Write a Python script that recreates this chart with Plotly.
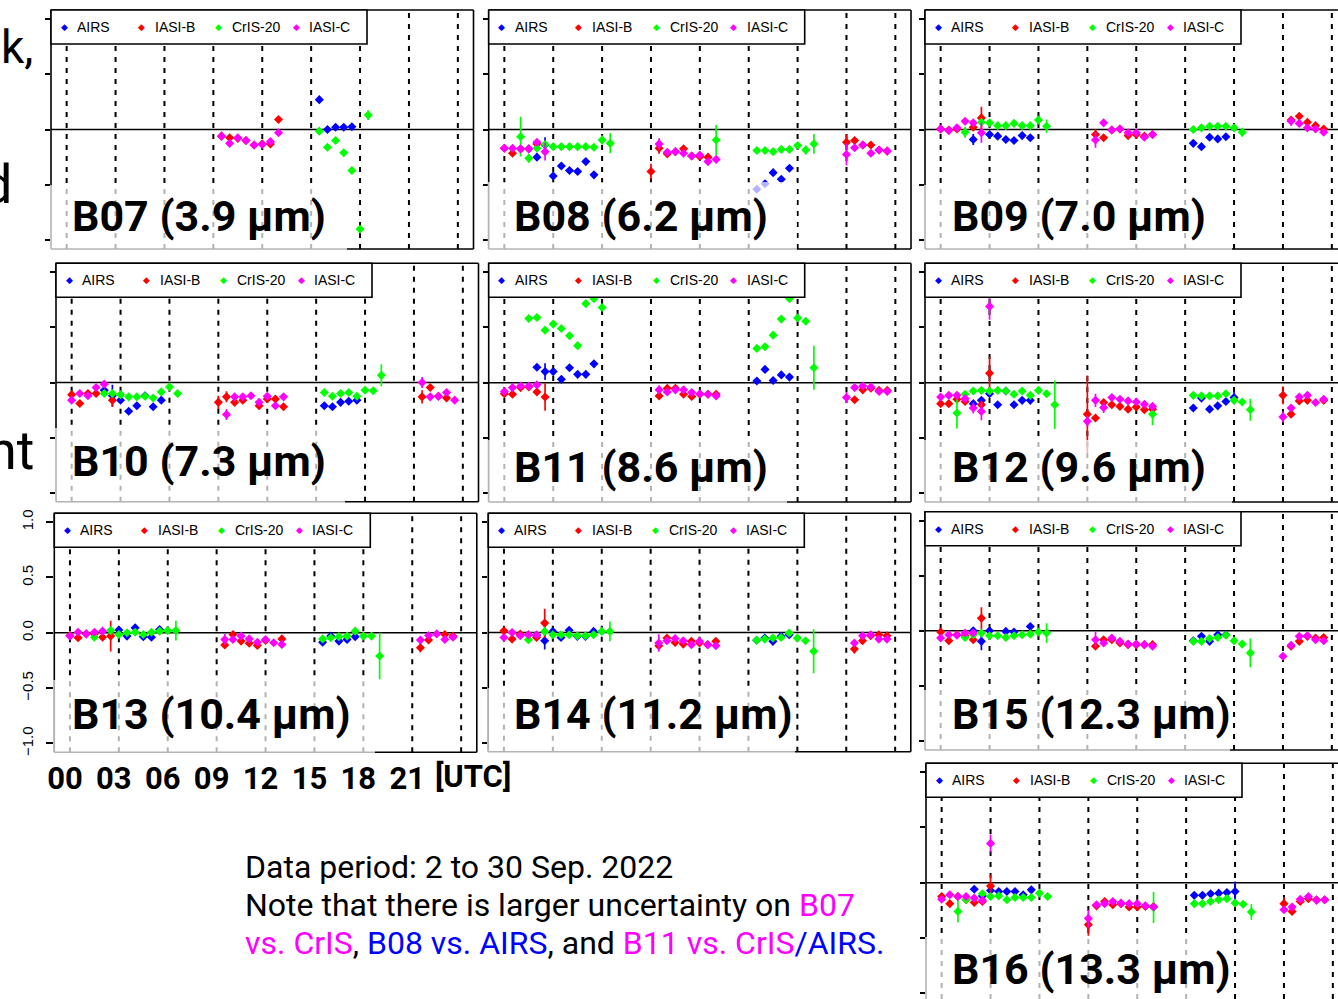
import plotly.graph_objects as go

W, H = 1338, 999

# ---------------- data ----------------
SENSORS = ["AIRS", "IASI-B", "CrIS-20", "IASI-C"]
COLORS = ["#0000FF", "#FF0000", "#00FF00", "#FF00FF"]
HOUR_GRID = [0, 3, 6, 9, 12, 15, 18, 21, 24]
HOUR_LABELS = ["00", "03", "06", "09", "12", "15", "18", "21"]
Y_TICKS = [-1.0, -0.5, 0.0, 0.5, 1.0]
BANDS = ["B07", "B08", "B09", "B10", "B11", "B12", "B13", "B14", "B15", "B16"]
BAND_LABELS = ["B07 (3.9 µm)", "B08 (6.2 µm)", "B09 (7.0 µm)", "B10 (7.3 µm)",
               "B11 (8.6 µm)", "B12 (9.6 µm)", "B13 (10.4 µm)", "B14 (11.2 µm)",
               "B15 (12.3 µm)", "B16 (13.3 µm)"]

# (UTC hour, bias [K], error-bar half length)
B07_AIRS = [(15.5, 0.27, 0.02), (16.0, 0.0, 0.02), (16.5, 0.02, 0.02), (17.0, 0.02, 0.02), (17.5, 0.025, 0.02)]
B07_IASIB = [(9.5, -0.06, 0.02), (10.0, -0.075, 0.02), (10.5, -0.08, 0.02), (11.0, -0.10, 0.02), (11.5, -0.14, 0.02),
             (12.0, -0.13, 0.02), (12.5, -0.13, 0.02), (13.0, 0.09, 0.02)]
B07_CRIS = [(15.5, -0.015, 0.02), (16.0, -0.16, 0.02), (16.5, -0.10, 0.02), (17.0, -0.21, 0.02), (17.5, -0.37, 0.02),
            (18.0, -0.90, 0.02), (18.5, 0.13, 0.045)]
B07_IASIC = [(9.5, -0.06, 0.04), (10.0, -0.125, 0.02), (10.5, -0.075, 0.02), (11.0, -0.10, 0.02), (11.5, -0.14, 0.02),
             (12.0, -0.135, 0.02), (12.5, -0.11, 0.02), (13.0, -0.03, 0.02)]

B08_AIRS = [(2.0, -0.25, 0.03), (2.5, -0.14, 0.07), (3.0, -0.42, 0.02), (3.5, -0.33, 0.02), (4.0, -0.37, 0.02),
            (4.5, -0.38, 0.02), (5.0, -0.29, 0.02), (5.5, -0.41, 0.02), (15.5, -0.54, 0.02), (16.0, -0.49, 0.02),
            (16.5, -0.39, 0.02), (17.0, -0.45, 0.02), (17.5, -0.35, 0.02)]
B08_IASIB = [(0.0, -0.17, 0.02), (0.5, -0.215, 0.02), (1.0, -0.175, 0.02), (1.5, -0.175, 0.02), (2.0, -0.13, 0.02),
             (9.0, -0.38, 0.07), (9.5, -0.17, 0.05), (10.0, -0.22, 0.02), (10.5, -0.20, 0.02), (11.0, -0.175, 0.02),
             (11.5, -0.24, 0.02), (12.0, -0.245, 0.02), (12.5, -0.25, 0.02), (21.0, -0.115, 0.07), (21.5, -0.10, 0.02),
             (22.0, -0.14, 0.02), (22.5, -0.14, 0.02), (23.0, -0.185, 0.02), (23.5, -0.195, 0.02)]
B08_CRIS = [(1.0, -0.065, 0.18), (1.5, -0.26, 0.04), (2.0, -0.17, 0.02), (2.5, -0.135, 0.02), (3.0, -0.155, 0.02),
            (3.5, -0.155, 0.02), (4.0, -0.155, 0.02), (4.5, -0.155, 0.02), (5.0, -0.155, 0.02), (5.5, -0.16, 0.02),
            (6.0, -0.095, 0.04), (6.5, -0.125, 0.09), (13.0, -0.095, 0.135), (15.5, -0.19, 0.02), (16.0, -0.19, 0.02),
            (16.5, -0.20, 0.02), (17.0, -0.18, 0.02), (17.5, -0.18, 0.02), (18.0, -0.145, 0.02), (18.5, -0.185, 0.04),
            (19.0, -0.13, 0.09)]
B08_IASIC = [(0.0, -0.17, 0.02), (0.5, -0.17, 0.02), (1.0, -0.175, 0.02), (1.5, -0.175, 0.02), (2.0, -0.115, 0.03),
             (2.5, -0.20, 0.08), (9.5, -0.13, 0.05), (10.0, -0.205, 0.02), (10.5, -0.20, 0.02), (11.0, -0.215, 0.02),
             (11.5, -0.24, 0.02), (12.0, -0.23, 0.02), (12.5, -0.29, 0.02), (13.0, -0.27, 0.02), (21.0, -0.225, 0.10),
             (21.5, -0.165, 0.02), (22.0, -0.14, 0.02), (22.5, -0.215, 0.02), (23.0, -0.185, 0.02), (23.5, -0.195, 0.02)]

B09_AIRS = [(2.0, -0.09, 0.05), (3.0, -0.045, 0.02), (3.5, -0.06, 0.02), (4.0, -0.09, 0.02), (4.5, -0.10, 0.02),
            (5.0, -0.055, 0.02), (5.5, -0.075, 0.02), (15.5, -0.125, 0.02), (16.0, -0.155, 0.02), (16.5, -0.07, 0.02),
            (17.0, -0.085, 0.02), (17.5, -0.065, 0.02)]
B09_IASIB = [(0.0, 0.005, 0.02), (0.5, -0.005, 0.02), (1.0, 0.005, 0.02), (2.0, 0.02, 0.02), (2.5, 0.105, 0.10),
             (9.5, -0.045, 0.05), (10.0, -0.075, 0.02), (10.5, -0.005, 0.02), (11.0, 0.005, 0.02), (11.5, -0.055, 0.02),
             (12.0, -0.045, 0.02), (12.5, -0.06, 0.02), (13.0, -0.045, 0.02), (21.5, 0.085, 0.02), (22.0, 0.12, 0.02),
             (22.5, 0.065, 0.02), (23.0, 0.035, 0.02), (23.5, 0.005, 0.02)]
B09_CRIS = [(1.5, -0.025, 0.05), (2.5, 0.065, 0.02), (3.0, 0.06, 0.02), (3.5, 0.035, 0.02), (4.0, 0.035, 0.02),
            (4.5, 0.055, 0.02), (5.0, 0.035, 0.02), (5.5, 0.035, 0.02), (6.0, 0.085, 0.02), (6.5, 0.03, 0.06),
            (15.5, 0.0, 0.02), (16.0, 0.015, 0.02), (16.5, 0.03, 0.02), (17.0, 0.03, 0.02), (17.5, 0.03, 0.02),
            (18.0, 0.015, 0.02), (18.5, -0.025, 0.04)]
B09_IASIC = [(0.0, 0.005, 0.02), (0.5, -0.01, 0.02), (1.0, 0.015, 0.02), (1.5, 0.075, 0.02), (2.0, 0.06, 0.02),
             (2.5, -0.03, 0.09), (9.5, -0.095, 0.07), (10.0, 0.06, 0.02), (10.5, -0.005, 0.02), (11.0, 0.005, 0.02),
             (11.5, -0.03, 0.02), (12.0, -0.03, 0.02), (12.5, -0.07, 0.02), (13.0, -0.045, 0.02), (21.5, 0.075, 0.04),
             (22.0, 0.055, 0.02), (22.5, 0.015, 0.02), (23.0, 0.005, 0.02), (23.5, -0.025, 0.02)]

B10_AIRS = [(2.0, -0.07, 0.03), (2.5, -0.12, 0.10), (3.0, -0.16, 0.02), (3.5, -0.26, 0.02), (4.0, -0.21, 0.02),
            (4.5, -0.12, 0.02), (5.0, -0.22, 0.02), (5.5, -0.16, 0.02), (15.5, -0.21, 0.02), (16.0, -0.22, 0.02),
            (16.5, -0.18, 0.02), (17.0, -0.17, 0.02), (17.5, -0.16, 0.02)]
B10_IASIB = [(0.0, -0.11, 0.02), (0.5, -0.19, 0.02), (1.0, -0.10, 0.02), (1.5, -0.10, 0.02), (2.5, -0.16, 0.06),
             (9.0, -0.18, 0.06), (9.5, -0.13, 0.05), (10.0, -0.18, 0.02), (10.5, -0.16, 0.02), (11.5, -0.21, 0.02),
             (12.0, -0.15, 0.02), (12.5, -0.15, 0.02), (13.0, -0.22, 0.02), (21.5, -0.13, 0.06), (22.0, -0.045, 0.02),
             (22.5, -0.125, 0.02), (23.0, -0.14, 0.02)]
B10_CRIS = [(2.0, -0.10, 0.02), (2.5, -0.10, 0.02), (3.0, -0.11, 0.02), (3.5, -0.13, 0.02), (4.0, -0.13, 0.02),
            (4.5, -0.125, 0.02), (5.0, -0.14, 0.02), (5.5, -0.085, 0.02), (6.0, -0.04, 0.02), (6.5, -0.10, 0.03),
            (15.5, -0.09, 0.02), (16.0, -0.125, 0.02), (16.5, -0.10, 0.02), (17.0, -0.09, 0.02), (17.5, -0.125, 0.02),
            (18.0, -0.07, 0.02), (18.5, -0.075, 0.02), (19.0, 0.065, 0.10)]
B10_IASIC = [(0.0, -0.16, 0.02), (0.5, -0.10, 0.02), (1.0, -0.12, 0.02), (1.5, -0.045, 0.02), (2.0, -0.015, 0.02),
             (9.5, -0.29, 0.05), (10.0, -0.13, 0.02), (10.5, -0.13, 0.02), (11.0, -0.12, 0.02), (11.5, -0.18, 0.02),
             (12.0, -0.125, 0.02), (12.5, -0.21, 0.02), (13.0, -0.13, 0.02), (21.5, 0.0, 0.05), (22.0, -0.13, 0.02),
             (22.5, -0.125, 0.02), (23.0, -0.09, 0.02), (23.5, -0.16, 0.02)]

B11_AIRS = [(2.0, 0.14, 0.02), (2.5, 0.10, 0.075), (3.0, 0.10, 0.02), (3.5, 0.03, 0.02), (4.0, 0.135, 0.02),
            (4.5, 0.075, 0.02), (5.0, 0.075, 0.02), (5.5, 0.17, 0.02), (15.5, 0.015, 0.02), (16.0, 0.12, 0.02),
            (16.5, 0.02, 0.02), (17.0, 0.07, 0.02), (17.5, 0.05, 0.02)]
B11_IASIB = [(0.0, -0.10, 0.02), (0.5, -0.105, 0.02), (1.0, -0.045, 0.02), (1.5, -0.04, 0.02), (2.0, -0.085, 0.02),
             (2.5, -0.13, 0.125), (9.5, -0.12, 0.02), (10.0, -0.05, 0.02), (10.5, -0.05, 0.02), (11.0, -0.105, 0.02),
             (11.5, -0.125, 0.02), (12.0, -0.105, 0.02), (12.5, -0.105, 0.02), (13.0, -0.105, 0.02),
             (21.5, -0.155, 0.02), (22.0, -0.065, 0.02), (22.5, -0.05, 0.02), (23.0, -0.07, 0.02), (23.5, -0.07, 0.02)]
B11_CRIS = [(1.5, 0.58, 0.02), (2.0, 0.59, 0.02), (2.5, 0.475, 0.02), (3.0, 0.53, 0.02), (3.5, 0.49, 0.02),
            (4.0, 0.425, 0.02), (4.5, 0.335, 0.02), (5.0, 0.715, 0.02), (5.5, 0.76, 0.02), (6.0, 0.68, 0.02),
            (15.5, 0.31, 0.02), (16.0, 0.325, 0.02), (16.5, 0.43, 0.02), (17.0, 0.575, 0.02), (17.5, 0.76, 0.02),
            (18.0, 0.585, 0.02), (18.5, 0.555, 0.02), (19.0, 0.135, 0.20)]
B11_IASIC = [(0.0, -0.08, 0.02), (0.5, -0.045, 0.02), (1.0, -0.03, 0.02), (1.5, -0.03, 0.02), (2.0, -0.02, 0.02),
             (9.5, -0.065, 0.04), (10.0, -0.085, 0.02), (10.5, -0.065, 0.02), (11.0, -0.065, 0.02), (11.5, -0.09, 0.02),
             (12.0, -0.10, 0.02), (12.5, -0.105, 0.02), (13.0, -0.12, 0.02), (21.0, -0.135, 0.05), (21.5, -0.045, 0.02),
             (22.0, -0.03, 0.02), (22.5, -0.04, 0.02), (23.0, -0.08, 0.02), (23.5, -0.08, 0.02)]

B12_AIRS = [(2.0, -0.19, 0.02), (2.5, -0.16, 0.02), (3.0, -0.10, 0.03), (3.5, -0.20, 0.02), (4.0, -0.075, 0.02),
            (4.5, -0.20, 0.02), (5.0, -0.16, 0.02), (5.5, -0.16, 0.02), (15.5, -0.23, 0.02), (16.0, -0.14, 0.02),
            (16.5, -0.24, 0.02), (17.0, -0.21, 0.02), (17.5, -0.17, 0.02), (18.0, -0.135, 0.06)]
B12_IASIB = [(0.0, -0.19, 0.02), (0.5, -0.19, 0.02), (1.0, -0.15, 0.02), (1.5, -0.17, 0.02), (2.5, -0.20, 0.02),
             (3.0, 0.085, 0.15), (9.0, -0.285, 0.35), (9.5, -0.32, 0.02), (10.0, -0.18, 0.02), (10.5, -0.20, 0.02),
             (11.0, -0.215, 0.02), (11.5, -0.24, 0.02), (12.0, -0.22, 0.02), (12.5, -0.245, 0.02), (13.0, -0.24, 0.02),
             (21.0, -0.115, 0.08), (21.5, -0.285, 0.02), (22.0, -0.165, 0.02), (22.5, -0.16, 0.02), (23.5, -0.16, 0.02)]
B12_CRIS = [(1.0, -0.275, 0.14), (1.5, -0.105, 0.02), (2.0, -0.075, 0.02), (2.5, -0.07, 0.02), (3.0, -0.075, 0.02),
            (3.5, -0.07, 0.02), (4.0, -0.075, 0.02), (4.5, -0.105, 0.02), (5.0, -0.075, 0.02), (5.5, -0.115, 0.02),
            (6.0, -0.07, 0.02), (6.5, -0.10, 0.03), (7.0, -0.20, 0.22), (13.0, -0.285, 0.10), (15.5, -0.115, 0.02),
            (16.0, -0.12, 0.02), (16.5, -0.12, 0.02), (17.0, -0.12, 0.02), (17.5, -0.10, 0.02), (18.0, -0.16, 0.02),
            (18.5, -0.175, 0.02), (19.0, -0.245, 0.10)]
B12_IASIC = [(0.0, -0.13, 0.02), (0.5, -0.115, 0.02), (1.0, -0.115, 0.02), (1.5, -0.145, 0.02), (2.0, -0.23, 0.05),
             (2.5, -0.26, 0.08), (3.0, 0.69, 0.12), (9.0, -0.35, 0.05), (9.5, -0.16, 0.06), (10.0, -0.225, 0.05),
             (10.5, -0.135, 0.02), (11.0, -0.15, 0.02), (11.5, -0.165, 0.02), (12.0, -0.175, 0.02), (12.5, -0.195, 0.02),
             (13.0, -0.215, 0.02), (21.0, -0.31, 0.05), (21.5, -0.23, 0.02), (22.0, -0.13, 0.02), (22.5, -0.115, 0.02),
             (23.0, -0.18, 0.02), (23.5, -0.15, 0.02)]

B13_AIRS = [(3.0, 0.025, 0.03), (3.5, -0.03, 0.02), (4.0, 0.045, 0.02), (4.5, -0.035, 0.02), (5.0, -0.04, 0.02),
            (5.5, 0.03, 0.02), (15.5, -0.085, 0.02), (16.0, -0.03, 0.02), (16.5, -0.075, 0.02), (17.0, -0.06, 0.02),
            (17.5, -0.035, 0.02)]
B13_IASIB = [(0.0, -0.025, 0.02), (0.5, -0.045, 0.02), (1.0, -0.01, 0.02), (1.5, -0.01, 0.02), (2.0, -0.04, 0.02),
             (2.5, -0.03, 0.14), (9.5, -0.11, 0.02), (10.0, -0.015, 0.02), (10.5, -0.075, 0.02), (11.0, -0.095, 0.02),
             (11.5, -0.115, 0.02), (12.0, -0.07, 0.02), (13.0, -0.055, 0.02), (21.5, -0.135, 0.04), (22.0, -0.065, 0.02),
             (23.0, -0.015, 0.02), (23.5, -0.03, 0.02)]
B13_CRIS = [(1.5, -0.04, 0.02), (2.5, 0.02, 0.02), (3.0, -0.015, 0.02), (3.5, 0.0, 0.02), (4.0, 0.005, 0.02),
            (4.5, -0.015, 0.02), (5.0, 0.005, 0.02), (5.5, 0.015, 0.02), (6.0, 0.02, 0.02), (6.5, 0.02, 0.09),
            (15.5, -0.055, 0.02), (16.0, -0.045, 0.02), (16.5, -0.035, 0.02), (17.0, -0.03, 0.02), (17.5, 0.015, 0.02),
            (18.0, -0.03, 0.02), (18.5, -0.03, 0.02), (19.0, -0.21, 0.21)]
B13_IASIC = [(0.0, -0.03, 0.02), (0.5, 0.005, 0.02), (1.0, -0.01, 0.02), (1.5, 0.005, 0.02), (2.0, 0.015, 0.02),
             (9.5, -0.06, 0.05), (10.0, -0.06, 0.02), (10.5, -0.03, 0.02), (11.0, -0.055, 0.02), (11.5, -0.085, 0.02),
             (12.0, -0.06, 0.02), (12.5, -0.09, 0.02), (13.0, -0.105, 0.02), (21.5, -0.065, 0.02), (22.0, -0.025, 0.02),
             (22.5, -0.01, 0.02), (23.0, -0.06, 0.02), (23.5, -0.04, 0.02)]

B14_AIRS = [(2.0, -0.03, 0.02), (2.5, -0.075, 0.08), (3.0, 0.01, 0.02), (3.5, -0.045, 0.02), (4.0, 0.02, 0.02),
            (4.5, -0.035, 0.02), (5.0, -0.035, 0.02), (5.5, 0.01, 0.02), (15.5, -0.07, 0.02), (16.0, -0.05, 0.02),
            (16.5, -0.08, 0.02), (17.0, -0.035, 0.02), (17.5, -0.02, 0.02)]
B14_IASIB = [(0.0, 0.015, 0.02), (0.5, -0.06, 0.02), (1.0, -0.015, 0.02), (1.5, -0.02, 0.02), (2.0, -0.045, 0.02),
             (2.5, 0.085, 0.13), (9.5, -0.12, 0.02), (10.0, -0.05, 0.02), (10.5, -0.09, 0.02), (11.0, -0.105, 0.02),
             (11.5, -0.08, 0.02), (12.0, -0.095, 0.02), (12.5, -0.11, 0.02), (13.0, -0.08, 0.02), (21.5, -0.15, 0.04),
             (22.0, -0.075, 0.02), (22.5, -0.03, 0.02), (23.0, -0.02, 0.02), (23.5, -0.03, 0.02)]
B14_CRIS = [(1.5, -0.065, 0.02), (2.5, 0.01, 0.02), (3.0, -0.02, 0.02), (3.5, -0.02, 0.02), (4.0, -0.02, 0.02),
            (4.5, -0.03, 0.02), (5.0, -0.03, 0.02), (5.5, -0.02, 0.02), (6.0, 0.01, 0.02), (6.5, 0.01, 0.09),
            (15.5, -0.07, 0.02), (16.0, -0.06, 0.02), (16.5, -0.05, 0.02), (17.0, -0.045, 0.02), (17.5, -0.005, 0.02),
            (18.0, -0.05, 0.02), (18.5, -0.075, 0.02), (19.0, -0.17, 0.20)]
B14_IASIC = [(0.0, -0.045, 0.02), (0.5, 0.0, 0.02), (1.0, -0.03, 0.02), (1.5, -0.02, 0.02), (2.0, -0.02, 0.02),
             (9.5, -0.095, 0.08), (10.0, -0.075, 0.02), (10.5, -0.055, 0.02), (11.0, -0.075, 0.02), (11.5, -0.11, 0.02),
             (12.0, -0.08, 0.02), (12.5, -0.11, 0.02), (13.0, -0.12, 0.02), (21.5, -0.095, 0.02), (22.0, -0.03, 0.02),
             (22.5, -0.02, 0.02), (23.0, -0.06, 0.02), (23.5, -0.06, 0.02)]

B15_AIRS = [(2.0, 0.0, 0.02), (2.5, -0.095, 0.08), (3.0, 0.0, 0.02), (4.0, -0.005, 0.02), (4.5, -0.01, 0.02),
            (5.5, 0.04, 0.02), (15.5, -0.09, 0.02), (16.0, -0.05, 0.02), (16.5, -0.095, 0.02), (17.0, -0.035, 0.02),
            (17.5, -0.035, 0.02)]
B15_IASIB = [(0.0, -0.01, 0.02), (0.5, -0.09, 0.02), (1.0, -0.035, 0.02), (1.5, -0.045, 0.02), (2.0, -0.08, 0.02),
             (2.5, 0.115, 0.10), (9.5, -0.14, 0.02), (10.0, -0.08, 0.02), (10.5, -0.08, 0.02), (11.0, -0.11, 0.02),
             (11.5, -0.125, 0.02), (12.0, -0.125, 0.02), (12.5, -0.125, 0.02), (13.0, -0.125, 0.02),
             (21.5, -0.14, 0.02), (22.0, -0.095, 0.02), (22.5, -0.05, 0.02), (23.0, -0.065, 0.02), (23.5, -0.06, 0.02)]
B15_CRIS = [(1.5, -0.06, 0.02), (2.0, -0.035, 0.02), (2.5, -0.02, 0.02), (3.0, -0.045, 0.02), (3.5, -0.045, 0.02),
            (4.0, -0.06, 0.02), (4.5, -0.045, 0.02), (5.0, -0.035, 0.02), (5.5, -0.03, 0.02), (6.0, -0.01, 0.02),
            (6.5, -0.02, 0.09), (15.5, -0.095, 0.02), (16.0, -0.095, 0.02), (16.5, -0.07, 0.02), (17.0, -0.06, 0.02),
            (17.5, -0.04, 0.02), (18.0, -0.09, 0.02), (18.5, -0.12, 0.02), (19.0, -0.20, 0.13)]
B15_IASIC = [(0.0, -0.065, 0.02), (0.5, -0.035, 0.02), (1.0, -0.04, 0.02), (1.5, -0.02, 0.02), (2.0, -0.02, 0.02),
             (9.5, -0.08, 0.07), (10.0, -0.11, 0.02), (10.5, -0.065, 0.02), (11.0, -0.095, 0.02), (11.5, -0.12, 0.02),
             (12.0, -0.12, 0.02), (12.5, -0.125, 0.02), (13.0, -0.14, 0.02), (21.0, -0.23, 0.02), (21.5, -0.13, 0.02),
             (22.0, -0.05, 0.02), (22.5, -0.045, 0.02), (23.0, -0.08, 0.02), (23.5, -0.09, 0.02)]

B16_AIRS = [(2.0, -0.06, 0.02), (2.5, -0.12, 0.02), (3.0, -0.07, 0.02), (3.5, -0.08, 0.02), (4.0, -0.08, 0.02),
            (4.5, -0.08, 0.02), (5.0, -0.11, 0.02), (5.5, -0.065, 0.02), (15.5, -0.115, 0.02), (16.0, -0.115, 0.02),
            (16.5, -0.10, 0.02), (17.0, -0.095, 0.02), (17.5, -0.09, 0.02), (18.0, -0.08, 0.09)]
B16_IASIB = [(0.0, -0.125, 0.03), (0.5, -0.19, 0.02), (1.0, -0.125, 0.02), (1.5, -0.155, 0.02), (2.0, -0.18, 0.02),
             (2.5, -0.17, 0.02), (3.0, -0.03, 0.10), (9.0, -0.38, 0.10), (9.5, -0.21, 0.02), (10.0, -0.17, 0.02),
             (10.5, -0.20, 0.02), (11.0, -0.19, 0.02), (11.5, -0.22, 0.02), (12.0, -0.22, 0.02), (12.5, -0.215, 0.02),
             (13.0, -0.215, 0.02), (21.0, -0.19, 0.06), (21.5, -0.26, 0.02), (22.0, -0.17, 0.02), (22.5, -0.145, 0.02),
             (23.0, -0.155, 0.02), (23.5, -0.155, 0.02)]
B16_CRIS = [(1.0, -0.26, 0.10), (1.5, -0.155, 0.02), (2.5, -0.10, 0.02), (3.0, -0.125, 0.02), (3.5, -0.12, 0.02),
            (4.0, -0.155, 0.02), (4.5, -0.135, 0.02), (5.0, -0.135, 0.02), (5.5, -0.135, 0.02), (6.0, -0.095, 0.02),
            (6.5, -0.125, 0.03), (13.0, -0.225, 0.14), (15.5, -0.19, 0.02), (16.0, -0.19, 0.02), (16.5, -0.17, 0.02),
            (17.0, -0.155, 0.02), (17.5, -0.145, 0.02), (18.0, -0.185, 0.02), (18.5, -0.195, 0.02), (19.0, -0.265, 0.07)]
B16_IASIC = [(0.0, -0.15, 0.02), (0.5, -0.11, 0.02), (1.0, -0.125, 0.02), (1.5, -0.125, 0.02), (2.0, -0.14, 0.02),
             (2.5, -0.16, 0.02), (3.0, 0.355, 0.08), (9.0, -0.325, 0.08), (9.5, -0.20, 0.02), (10.0, -0.19, 0.02),
             (10.5, -0.17, 0.02), (11.0, -0.185, 0.02), (11.5, -0.19, 0.02), (12.0, -0.19, 0.02), (12.5, -0.21, 0.02),
             (13.0, -0.22, 0.02), (21.0, -0.245, 0.02), (21.5, -0.22, 0.02), (22.0, -0.15, 0.02), (22.5, -0.125, 0.02),
             (23.0, -0.16, 0.02), (23.5, -0.155, 0.02)]

SERIES = {
    "B07": [B07_AIRS, B07_IASIB, B07_CRIS, B07_IASIC],
    "B08": [B08_AIRS, B08_IASIB, B08_CRIS, B08_IASIC],
    "B09": [B09_AIRS, B09_IASIB, B09_CRIS, B09_IASIC],
    "B10": [B10_AIRS, B10_IASIB, B10_CRIS, B10_IASIC],
    "B11": [B11_AIRS, B11_IASIB, B11_CRIS, B11_IASIC],
    "B12": [B12_AIRS, B12_IASIB, B12_CRIS, B12_IASIC],
    "B13": [B13_AIRS, B13_IASIB, B13_CRIS, B13_IASIC],
    "B14": [B14_AIRS, B14_IASIB, B14_CRIS, B14_IASIC],
    "B15": [B15_AIRS, B15_IASIB, B15_CRIS, B15_IASIC],
    "B16": [B16_AIRS, B16_IASIB, B16_CRIS, B16_IASIC],
}

# ---------------- layout (page pixels) ----------------
XR = (-0.96, 24.96)
YR = (-1.08, 1.08)
FRAME_PX = {  # left, top, right, bottom of each plot frame on the page
    "B07": (51.0, 10.0, 473.5, 249.0),
    "B08": (488.7, 10.0, 911.0, 249.0),
    "B09": (925.0, 10.0, 1347.5, 249.0),
    "B10": (56.0, 263.3, 478.5, 501.7),
    "B11": (488.7, 263.3, 911.0, 502.0),
    "B12": (925.0, 263.3, 1347.5, 502.0),
    "B13": (54.3, 513.3, 476.8, 752.3),
    "B14": (488.3, 513.3, 910.8, 751.7),
    "B15": (925.0, 511.7, 1347.5, 750.0),
    "B16": (926.0, 763.3, 1348.5, 1002.0),
}
VEIL_PX = {  # right edge, top edge of the label's translucent box
    "B07": (347, 185), "B08": (797, 182), "B09": (1232, 185), "B10": (345, 428),
    "B11": (787, 440), "B12": (1232, 440), "B13": (375, 680), "B14": (795, 688),
    "B15": (1230, 690), "B16": (1230, 937),
}
LABEL_PX = {  # left x, centre y of the big band label
    "B07": (70, 216), "B08": (512, 216), "B09": (950, 216), "B10": (70, 461),
    "B11": (512, 467), "B12": (950, 467), "B13": (70, 714), "B14": (512, 714),
    "B15": (950, 714), "B16": (950, 969),
}
LEG_W, LEG_H = 316, 34
LEG_SYM_DX = [13, 90, 167.5, 245]
LEG_TXT_DX = [24, 101.5, 179, 256]


def px(x):
    return x / W


def py(y):
    return 1 - y / H


fig = go.Figure()
shapes = []
annotations = []
layout = dict(width=W, height=H, margin=dict(l=0, r=0, t=0, b=0, autoexpand=False),
              paper_bgcolor="white", plot_bgcolor="rgba(0,0,0,0)", showlegend=False)

for i, band in enumerate(BANDS):
    idx = "" if i == 0 else str(i + 1)
    xa, ya = "x" + idx, "y" + idx
    L, T, R, B = FRAME_PX[band]
    Rv, Bv = min(R, W), min(B, H)
    xr1 = XR[0] + (Rv - L) / (R - L) * (XR[1] - XR[0])
    yr0 = YR[1] - (Bv - T) / (B - T) * (YR[1] - YR[0])
    xax = dict(domain=[px(L), px(Rv)], range=[XR[0], xr1], anchor=ya, showgrid=False, automargin=False,
               zeroline=False, showline=False, ticks="", showticklabels=False, fixedrange=True)
    yax = dict(domain=[py(Bv), py(T)], range=[yr0, YR[1]], anchor=xa, showgrid=False, automargin=False,
               zeroline=False, showline=False, ticks="outside", ticklen=5, tickwidth=1.5,
               tickcolor="black", tickvals=Y_TICKS, showticklabels=False, fixedrange=True)
    if band == "B13":
        xax.update(showticklabels=True, tickvals=HOUR_GRID[:-1], ticktext=HOUR_LABELS,
                   tickfont=dict(family="Roboto", size=31, color="black", weight="bold"),
                   ticklabelshift=-5, ticklabelstandoff=5)
        yax.update(showticklabels=True, ticklen=7, tickangle=-90, tickformat=".1f",
                   tickfont=dict(family="Liberation Sans", size=15, color="black"),
                   ticklabelstandoff=7)
    layout["xaxis" + idx] = xax
    layout["yaxis" + idx] = yax

    # data
    for sname, color, data in zip(SENSORS, COLORS, SERIES[band]):
        fig.add_trace(go.Scatter(
            x=[d[0] for d in data], y=[d[1] for d in data], xaxis=xa, yaxis=ya,
            mode="markers", name=sname, showlegend=False,
            marker=dict(symbol="diamond", size=7, color=color, line=dict(width=0)),
            error_y=dict(type="data", array=[d[2] for d in data], visible=True,
                         color=color, thickness=1.7, width=0)))

    # dashed hour lines and zero line
    for h in HOUR_GRID:
        shapes.append(dict(type="line", xref=xa, yref=ya + " domain", x0=h, x1=h, y0=0, y1=1,
                           line=dict(color="black", width=2, dash="5px,6px"), layer="below"))
    shapes.append(dict(type="line", xref=xa + " domain", yref=ya, x0=0, x1=1, y0=0, y1=0,
                       line=dict(color="black", width=1.5), layer="below"))

    # frame
    def seg(x0, y0, x1, y1):
        shapes.append(dict(type="line", xref="paper", yref="paper", x0=px(x0), x1=px(x1),
                           y0=py(y0), y1=py(y1), line=dict(color="black", width=1.6), layer="above"))
    seg(L, T, L, Bv)
    seg(L, T, Rv, T)
    if R <= W:
        seg(R, T, R, Bv)
    if B <= H:
        seg(L, B, Rv, B)

    # legend box
    shapes.append(dict(type="rect", xref="paper", yref="paper", x0=px(L), x1=px(L + LEG_W),
                       y0=py(T + LEG_H), y1=py(T), fillcolor="white",
                       line=dict(color="black", width=1.6), layer="above"))
    for sname, color, dsx, dtx in zip(SENSORS, COLORS, LEG_SYM_DX, LEG_TXT_DX):
        annotations.append(dict(text="◆", x=px(L + dsx), y=py(T + 17), xref="paper", yref="paper",
                                xanchor="center", yanchor="middle", showarrow=False,
                                font=dict(family="DejaVu Sans", size=9, color=color)))
        annotations.append(dict(text=sname, x=px(L + dtx), y=py(T + 17), xref="paper", yref="paper",
                                xanchor="left", yanchor="middle", showarrow=False,
                                font=dict(family="Liberation Sans", size=14, color="black")))

    # translucent label box + label
    vr, vt = VEIL_PX[band]
    shapes.append(dict(type="rect", xref="paper", yref="paper", x0=px(L - 1), x1=px(vr),
                       y0=py(Bv + 2), y1=py(vt), fillcolor="rgba(255,255,255,0.7)",
                       line=dict(width=0), layer="above"))
    lx, ly = LABEL_PX[band]
    annotations.append(dict(text=BAND_LABELS[i], x=px(lx), y=py(ly), xref="paper", yref="paper",
                            xanchor="left", yanchor="middle", showarrow=False,
                            font=dict(family="Roboto", size=43, color="black", weight="bold")))

# axis unit label
annotations.append(dict(text="[UTC]", x=px(433), y=py(776), xref="paper", yref="paper",
                        xanchor="left", yanchor="middle", showarrow=False,
                        font=dict(family="Roboto", size=31, color="black", weight="bold")))

# note text
MAG, BLU = "#FF00FF", "#0000FF"
NOTE_LINES = [
    "Data period: 2 to 30 Sep. 2022",
    f"Note that there is larger uncertainty on <span style='color:{MAG}'>B07</span>",
    f"<span style='color:{MAG}'>vs. CrIS</span>, <span style='color:{BLU}'>B08 vs. AIRS</span>, and "
    f"<span style='color:{MAG}'>B11 vs. CrIS</span><span style='color:{BLU}'>/AIRS.</span>",
]
for k, line in enumerate(NOTE_LINES):
    annotations.append(dict(text=line, x=px(243), y=py(867 + 38 * k), xref="paper", yref="paper",
                            xanchor="left", yanchor="middle", showarrow=False,
                            font=dict(family="Roboto", size=32, color="black")))

# fragments of slide text cut at the left edge
for txt, xr, yc, fs in [("k,", 35, 47, 46), ("d", 14, 184, 54), ("nt", 37, 451, 54)]:
    annotations.append(dict(text=txt, x=px(xr), y=py(yc), xref="paper", yref="paper",
                            xanchor="right", yanchor="middle", showarrow=False,
                            font=dict(family="Roboto", size=fs, color="black")))

layout["shapes"] = shapes
layout["annotations"] = annotations
fig.update_layout(**layout)
fig.write_html("out.html", config={"displayModeBar": False},
               post_script="document.body.style.margin='0';document.body.style.overflow='hidden';")
